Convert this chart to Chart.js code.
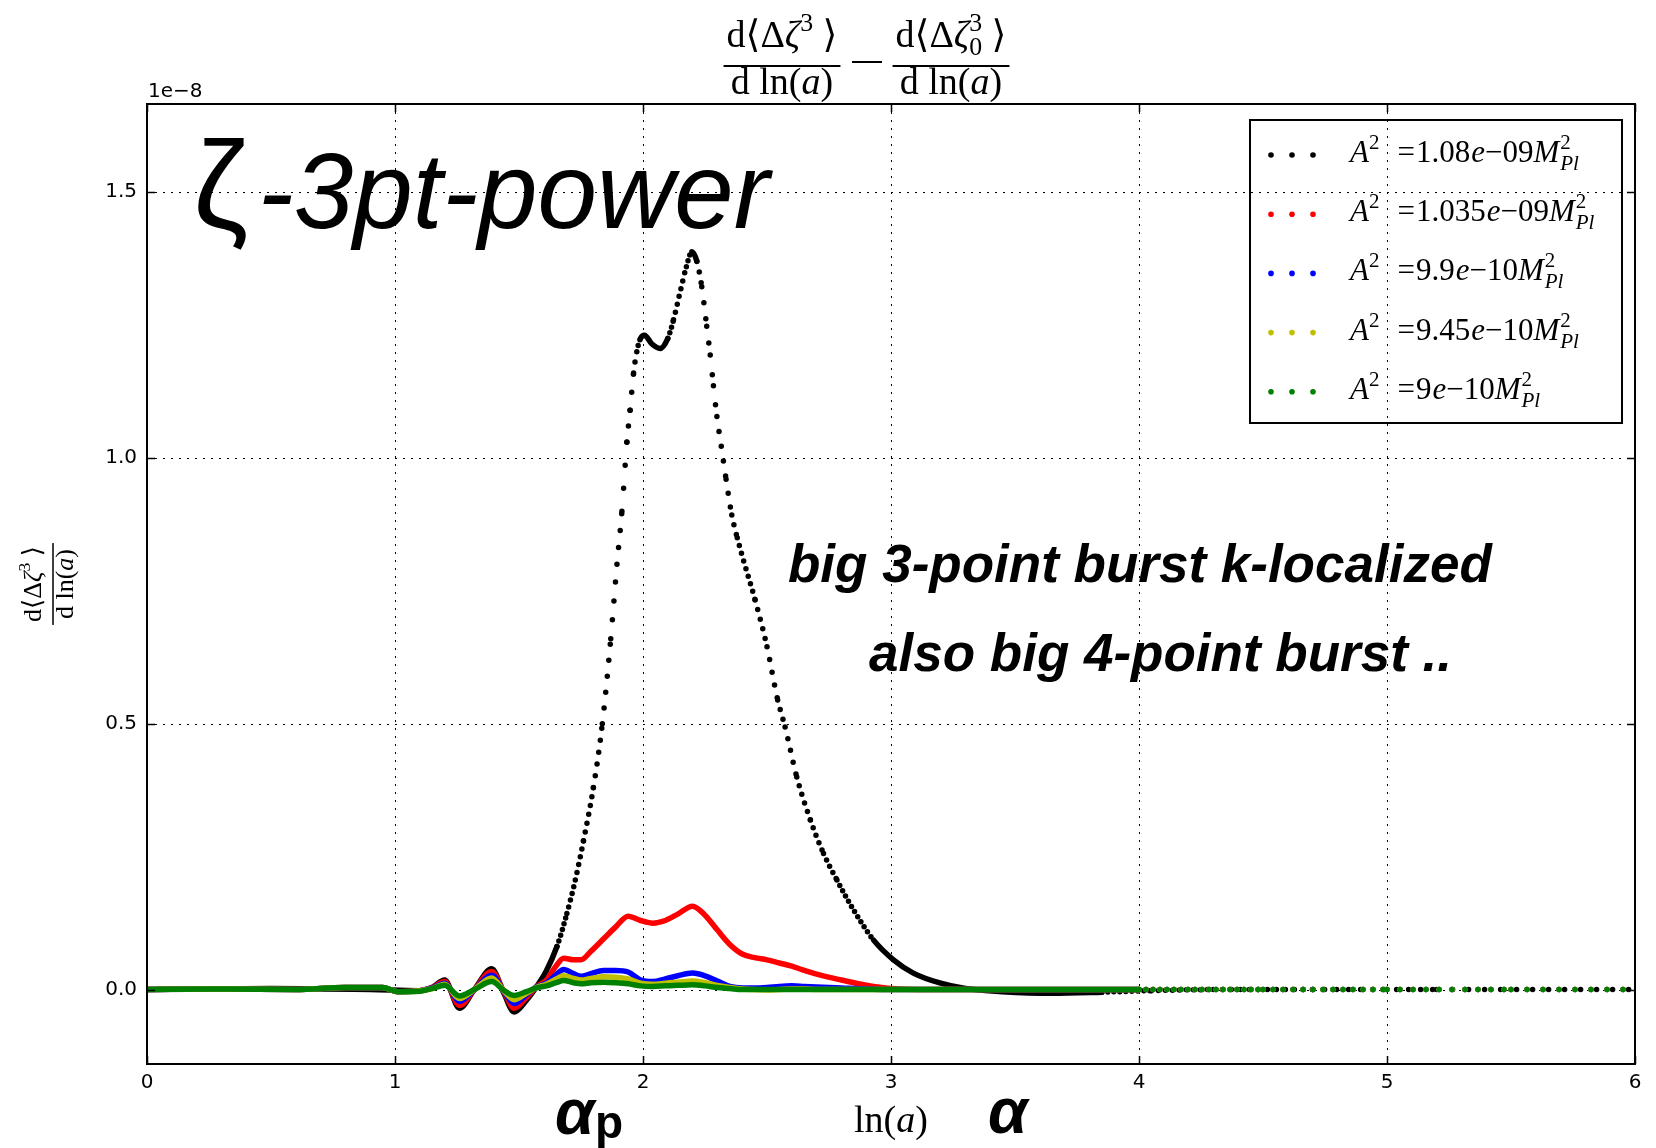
<!DOCTYPE html>
<html><head><meta charset="utf-8">
<script src="https://cdn.jsdelivr.net/npm/chart.js@4.4.1/dist/chart.umd.min.js"></script>
<style>html,body{margin:0;padding:0;background:#fff}#wrap{width:1656px;height:1148px;position:relative}</style>
</head><body><div id="wrap"><canvas id="c"></canvas></div>
<script>
// ---------- data (y values in units of 1e-8) ----------
const offsetLabel = '1e\u22128';
const xTicks = [0, 1, 2, 3, 4, 5, 6];
const yTicks = [0.0, 0.5, 1.0, 1.5];
const legendMantissa = ['1.08', '1.035', '9.9', '9.45', '9'];
const legendExponent = ['09', '09', '10', '10', '10'];
const seriesColors = ['#000000', '#ff0000', '#0000ff', '#bfbf00', '#008000'];

const blackX = [0, 0.5, 0.9, 1.1, 1.15, 1.2, 1.26, 1.32, 1.39, 1.44, 1.48, 1.53, 1.57, 1.61, 1.653, 1.693, 1.727, 1.76, 1.80, 1.836, 1.87, 1.895, 1.915, 1.935, 1.948, 1.962, 1.975, 1.99, 2.006, 2.035, 2.069, 2.1, 2.123, 2.15, 2.175, 2.197, 2.217, 2.237, 2.257, 2.271, 2.284, 2.298, 2.315, 2.335, 2.358, 2.38, 2.405, 2.452, 2.5, 2.543, 2.573, 2.62, 2.675, 2.728, 2.782, 2.849, 2.93, 3.01, 3.09, 3.2, 3.3, 3.45, 3.65, 3.85, 4.05, 4.3, 4.7, 5.2, 6.0];
const blackY = [0, 0.002, 0.0, -0.002, 0.004, 0.018, -0.035, 0.0, 0.039, -0.008, -0.042, -0.02, 0.005, 0.035, 0.081, 0.143, 0.206, 0.28, 0.38, 0.5, 0.66, 0.80, 0.90, 1.03, 1.09, 1.16, 1.20, 1.225, 1.231, 1.215, 1.206, 1.225, 1.26, 1.313, 1.36, 1.388, 1.37, 1.322, 1.248, 1.194, 1.136, 1.078, 1.024, 0.96, 0.893, 0.85, 0.808, 0.733, 0.645, 0.545, 0.494, 0.40, 0.319, 0.256, 0.206, 0.150, 0.093, 0.056, 0.031, 0.012, 0.002, -0.004, -0.007, -0.005, -0.002, 0, 0, 0, 0];

const lowX = [0, 0.3, 0.6, 0.8, 0.95, 1.01, 1.1, 1.15, 1.2, 1.26, 1.32, 1.39, 1.44, 1.48, 1.53, 1.57, 1.61, 1.65, 1.68, 1.72, 1.75, 1.79, 1.84, 1.89, 1.94, 1.99, 2.04, 2.09, 2.14, 2.2, 2.25, 2.3, 2.35, 2.4, 2.45, 2.5, 2.55, 2.6, 2.65, 2.7, 2.8, 2.9, 3.0, 3.2, 3.5, 4.0, 4.5, 5.0, 5.5, 6.0];
const redY = [0, 0.001, 0, 0.004, 0.004, -0.004, -0.002, 0.004, 0.015, -0.030,
  0.0, 0.034, -0.005, -0.035, -0.015, 0.005, 0.018, 0.045, 0.059, 0.056,
  0.056, 0.072, 0.095, 0.118, 0.138, 0.130, 0.125, 0.130, 0.142, 0.157,
  0.140, 0.112, 0.085, 0.067, 0.060, 0.056, 0.050, 0.044, 0.036, 0.029,
  0.018, 0.008, 0.002, 0, 0, 0, 0, 0, 0, 0];
const blueY = [0, 0.001, 0, 0.004, 0.004, -0.004, -0.002, 0.003, 0.012, -0.022,
  0.0, 0.027, -0.004, -0.026, -0.010, 0.005, 0.012, 0.028, 0.038, 0.030,
  0.025, 0.030, 0.036, 0.036, 0.033, 0.018, 0.015, 0.020, 0.026, 0.031,
  0.026, 0.016, 0.006, 0.003, 0.003, 0.004, 0.006, 0.007, 0.006, 0.005,
  0.003, 0.001, 0, 0, 0, 0, 0, 0, 0, 0];
const yellowY = [0, 0.001, 0, 0.004, 0.004, -0.004, -0.002, 0.002, 0.010, -0.017,
  0.0, 0.022, -0.003, -0.019, -0.007, 0.004, 0.010, 0.020, 0.026, 0.021,
  0.018, 0.021, 0.024, 0.023, 0.020, 0.012, 0.010, 0.012, 0.014, 0.016,
  0.013, 0.008, 0.004, 0.001, 0.0, -0.001, 0.0, 0.001, 0.001, 0.0,
  0, 0, 0, 0, 0, 0, 0, 0, 0, 0];
const greenY = [0, 0.001, 0, 0.004, 0.004, -0.004, -0.003, 0.002, 0.008, -0.012,
  0.0, 0.015, -0.002, -0.011, -0.004, 0.003, 0.007, 0.013, 0.017, 0.013,
  0.011, 0.013, 0.014, 0.013, 0.011, 0.007, 0.006, 0.007, 0.008, 0.009,
  0.007, 0.004, 0.002, 0.0, 0, 0, 0, 0, 0, 0,
  0, 0, 0, 0, 0, 0, 0, 0, 0, 0];

const seriesX = [blackX, lowX, lowX, lowX, lowX];
const seriesY = [blackY, redY, blueY, yellowY, greenY];

// ---------- styling helpers ----------
// horizontal spacing (px) between plotted markers; grows at late times
const stepAt = [[1.9, 1.6], [2.4, 2.25], [2.7, 2.9], [3.0, 3.4], [4.0, 6], [4.85, 11], [6.0, 18]];
function sampleStep(xv) {
  if (xv <= stepAt[0][0]) return stepAt[0][1];
  for (let i = 1; i < stepAt.length; i++) {
    const [x1, s1] = stepAt[i], [x0, s0] = stepAt[i - 1];
    if (xv <= x1) return s0 + (s1 - s0) * (xv - x0) / (x1 - x0);
  }
  return stepAt[stepAt.length - 1][1];
}
function dotDash(ctx) {
  const dx = Math.abs(ctx.p1.x - ctx.p0.x), dy = ctx.p1.y - ctx.p0.y;
  const xm = (ctx.p0.parsed.x + ctx.p1.parsed.x) / 2;
  const gap = Math.round(sampleStep(xm) * Math.hypot(dx, dy) / Math.max(dx, 0.01));
  return gap < 6 ? undefined : [0, gap];
}

const SERIF = '"Liberation Serif","DejaVu Serif","DejaVu Sans",serif';
const R = s => `${s}px ${SERIF}`;
const I = s => `italic ${s}px ${SERIF}`;

function runW(ctx, r) {
  if (r.stack) return Math.max(...r.stack.map(s => runW(ctx, s)));
  ctx.font = r.f; return ctx.measureText(r.t).width + (r.k || 0);
}
function runsW(ctx, runs) { return runs.reduce((a, r) => a + runW(ctx, r), 0); }
function drawRun(ctx, x, y, r) {
  if (r.stack) { r.stack.forEach(s => drawRun(ctx, x, y, s)); return x + runW(ctx, r); }
  ctx.font = r.f; ctx.fillText(r.t, x, y + (r.dy || 0));
  return x + ctx.measureText(r.t).width + (r.k || 0);
}
function drawRuns(ctx, x, y, runs) { runs.forEach(r => { x = drawRun(ctx, x, y, r); }); return x; }
function drawFrac(ctx, cx, barY, num, den, gapN, gapD, lw) {
  const wn = runsW(ctx, num), wd = runsW(ctx, den), wb = Math.max(wn, wd) + 6;
  drawRuns(ctx, cx - wn / 2, barY - gapN, num);
  drawRuns(ctx, cx - wd / 2, barY + gapD, den);
  ctx.fillRect(cx - wb / 2, barY - lw / 2, wb, lw);
}
const numA = s => [{t:'d',f:R(s)},{t:'\u27E8',f:R(s)},{t:'\u0394',f:R(s)},{t:'\u03B6',f:I(s)},{t:'3',f:R(s*0.68),dy:-s*0.42},{t:' \u27E9',f:R(s)}];
const numB = s => [{t:'d',f:R(s)},{t:'\u27E8',f:R(s)},{t:'\u0394',f:R(s)},{t:'\u03B6',f:I(s)},{stack:[{t:'3',f:R(s*0.68),dy:-s*0.42},{t:'0',f:R(s*0.68),dy:s*0.2}]},{t:' \u27E9',f:R(s)}];
const denA = s => [{t:'d ln(',f:R(s)},{t:'a',f:I(s)},{t:')',f:R(s)}];

// ---------- plugins ----------
const framePlugin = {
  id: 'frame',
  beforeDatasetsDraw(chart) {
    const {ctx, chartArea: a, scales: {x, y}} = chart;
    ctx.save();
    ctx.strokeStyle = '#000'; ctx.lineWidth = 1; ctx.setLineDash([2, 6]);
    xTicks.forEach(v => { const p = Math.round(x.getPixelForValue(v)) + 0.5;
      ctx.beginPath(); ctx.moveTo(p, a.top); ctx.lineTo(p, a.bottom); ctx.stroke(); });
    yTicks.forEach(v => { const p = Math.round(y.getPixelForValue(v)) + 0.5;
      ctx.beginPath(); ctx.moveTo(a.left, p); ctx.lineTo(a.right, p); ctx.stroke(); });
    ctx.restore();
  },
  afterDatasetsDraw(chart) {
    const {ctx, chartArea: a, scales: {x, y}} = chart;
    ctx.save();
    ctx.strokeStyle = '#000'; ctx.lineWidth = 1.5; ctx.setLineDash([]);
    const L = 8;
    xTicks.forEach(v => { const p = Math.round(x.getPixelForValue(v)) + 0.5;
      ctx.beginPath(); ctx.moveTo(p, a.bottom); ctx.lineTo(p, a.bottom - L);
      ctx.moveTo(p, a.top); ctx.lineTo(p, a.top + L); ctx.stroke(); });
    yTicks.forEach(v => { const p = Math.round(y.getPixelForValue(v)) + 0.5;
      ctx.beginPath(); ctx.moveTo(a.left, p); ctx.lineTo(a.left + L, p);
      ctx.moveTo(a.right, p); ctx.lineTo(a.right - L, p); ctx.stroke(); });
    ctx.lineWidth = 2;
    ctx.strokeRect(a.left, a.top, a.right - a.left, a.bottom - a.top);
    ctx.restore();
  },
  afterDraw(chart) {
    const {ctx, chartArea: a} = chart;
    ctx.save();
    ctx.fillStyle = '#000'; ctx.textAlign = 'left'; ctx.textBaseline = 'alphabetic';
    // title
    drawFrac(ctx, 782, 66, numA(38), denA(38), 19, 28, 2);
    ctx.fillRect(852, 61, 30, 2);
    drawFrac(ctx, 951, 66, numB(38), denA(38), 19, 28, 2);
    // y label
    ctx.save(); ctx.translate(53, (a.top + a.bottom) / 2); ctx.rotate(-Math.PI / 2);
    drawFrac(ctx, 0, 0, numA(26), denA(26), 12, 20, 1.5);
    ctx.restore();
    // x label
    const xl = denA(38).slice(0); xl[0] = {t:'ln(', f:R(38)};
    drawRuns(ctx, (a.left + a.right) / 2 - runsW(ctx, xl) / 2, 1132, xl);
    // offset text
    ctx.font = '20px "DejaVu Sans"'; ctx.fillText(offsetLabel, a.left + 1, 97);
    // annotations
    ctx.font = '125px "Liberation Sans"'; ctx.fillText('\u03B6', 193, 228);
    ctx.font = 'italic 107px "Liberation Sans"'; ctx.fillText('-3pt-power', 258, 228);
    ctx.font = 'italic bold 53px "Liberation Sans"';
    ctx.fillText('big 3-point burst k-localized', 788, 582);
    ctx.fillText('also big 4-point burst ..', 869, 671);
    ctx.font = 'italic bold 64px "Liberation Sans"';
    ctx.fillText('\u03B1', 555, 1134);
    ctx.fillText('\u03B1', 988, 1133);
    ctx.font = 'bold 46px "Liberation Sans"';
    ctx.fillText('p', 595, 1138);
    // legend
    ctx.lineWidth = 2; ctx.strokeStyle = '#000';
    ctx.strokeRect(1250, 120, 372, 303);
    legendMantissa.forEach((m, i) => {
      const cy = 155 + i * 59.2;
      ctx.fillStyle = seriesColors[i];
      [1271, 1292, 1313].forEach(dx => { ctx.beginPath(); ctx.arc(dx, cy, 2.8, 0, Math.PI * 2); ctx.fill(); });
      ctx.fillStyle = '#000';
      drawRuns(ctx, 1350, cy + 7, [
        {t:'A', f:I(31)}, {t:'2', f:R(21), dy:-13, k:18}, {t:'=', f:R(31), k:1},
        {t:m, f:R(31), k:1}, {t:'e', f:I(31)}, {t:'\u2212' + legendExponent[i], f:R(31)},
        {t:'M', f:I(31), k:1},
        {stack:[{t:'2', f:R(21), dy:-13}, {t:'Pl', f:I(21), dy:8}]}
      ]);
    });
    ctx.restore();
  }
};

const datasets = seriesY.map((ys, i) => ({
  label: 'A^2 = ' + legendMantissa[i] + 'e-' + legendExponent[i],
  data: seriesX[i].map((xv, j) => ({x: xv, y: ys[j]})),
  borderColor: seriesColors[i],
  backgroundColor: seriesColors[i],
  borderWidth: 5.5,
  borderCapStyle: 'round',
  borderJoinStyle: 'round',
  pointRadius: 0,
  fill: false,
  cubicInterpolationMode: 'monotone',
  order: 5 - i,
  segment: { borderDash: dotDash }
}));

new Chart(document.getElementById('c'), {
  type: 'line',
  data: { datasets },
  options: {
    responsive: true, maintainAspectRatio: false, animation: false, devicePixelRatio: 1,
    events: [],
    layout: { padding: { top: 104, right: 21, left: 0, bottom: 0 } },
    scales: {
      x: {
        type: 'linear', min: 0, max: 6,
        grid: { display: false, drawTicks: false }, border: { display: false },
        afterBuildTicks: s => { s.ticks = xTicks.map(v => ({value: v})); },
        afterFit: s => { s.height = 84; },
        ticks: { font: { family: 'DejaVu Sans', size: 20 }, color: '#000', padding: 7,
                 maxRotation: 0, autoSkip: false, callback: v => String(v) }
      },
      y: {
        type: 'linear', min: -0.14, max: 1.666,
        grid: { display: false, drawTicks: false }, border: { display: false },
        afterBuildTicks: s => { s.ticks = yTicks.map(v => ({value: v})); },
        afterFit: s => { s.width = 147; },
        ticks: { font: { family: 'DejaVu Sans', size: 20 }, color: '#000', padding: 10,
                 autoSkip: false, callback: v => Number(v).toFixed(1) }
      }
    },
    plugins: { legend: { display: false }, tooltip: { enabled: false }, title: { display: false } }
  },
  plugins: [framePlugin]
});
</script></body></html>
